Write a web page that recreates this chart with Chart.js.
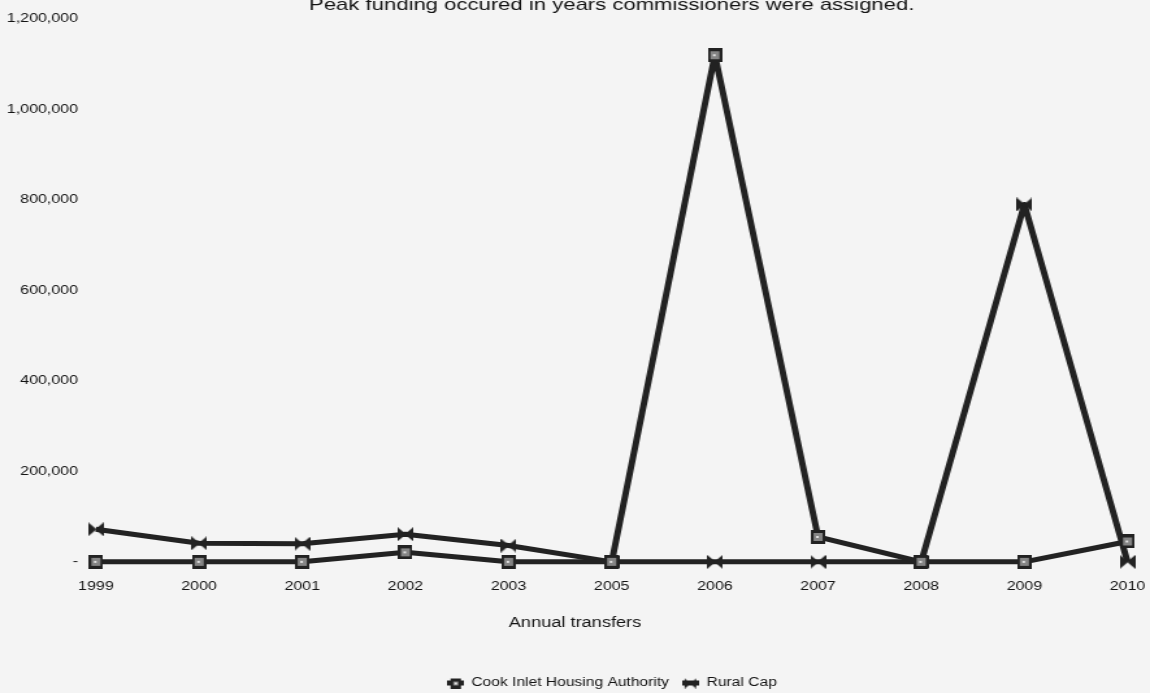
<!DOCTYPE html>
<html>
<head>
<meta charset="utf-8">
<script src="https://cdn.jsdelivr.net/npm/chart.js@4.4.1/dist/chart.umd.min.js"></script>
<style>
  html, body { margin: 0; padding: 0; background: #f4f4f4; overflow: hidden; width: 1150px; height: 693px; }
  /* The chart is laid out on a narrower canvas and widened, giving the broad lettering of the printed report */
  #wrap { position: absolute; left: 0; top: -10px; width: 885px; height: 720px; transform: scaleX(1.29944); transform-origin: 0 0; }
  canvas { display: block; }
</style>
</head>
<body>
<div id="wrap"><canvas id="chart" width="885" height="720" style="width:885px;height:720px"></canvas></div>
<script>
// Annual transfers by recipient (dollars)
const years = ['1999', '2000', '2001', '2002', '2003', '2005', '2006', '2007', '2008', '2009', '2010'];
const cookInlet = [0, 0, 0, 21000, 0, 0, 1120000, 55000, 0, 0, 45000];
const ruralCap = [72000, 41000, 40000, 61000, 36000, 0, 0, 0, 0, 790000, 0];
const seriesNames = ['Cook Inlet Housing Authority', 'Rural Cap'];
const yTickValues = [0, 200000, 400000, 600000, 800000, 1000000, 1200000];
const chartTitle = 'Peak funding occured in years commissioners were assigned.';
const axisTitle = 'Annual transfers';

const INK = '#131313';
const LINE = '#222222';
const FONT = '"Liberation Sans", Arial, sans-serif';

// Square marker with a lighter centre
function squareMarker(w, h) {
  const c = document.createElement('canvas');
  c.width = w; c.height = h;
  const g = c.getContext('2d');
  g.fillStyle = LINE; g.fillRect(0, 0, w, h);
  g.fillStyle = '#858585'; g.fillRect(2, 3, w - 4, h - 6);
  g.fillStyle = '#e2e2e2'; g.fillRect(Math.floor(w / 2) - 1, Math.floor(h / 2) - 1, 2, 2);
  return c;
}

// Bow-tie marker: two triangles meeting in the middle
function bowtieMarker(w, h) {
  const c = document.createElement('canvas');
  c.width = w; c.height = h;
  const g = c.getContext('2d');
  g.fillStyle = LINE;
  g.beginPath();
  g.moveTo(0, 0); g.lineTo(w / 2 + 0.5, h / 2); g.lineTo(0, h); g.closePath();
  g.moveTo(w, 0); g.lineTo(w / 2 - 0.5, h / 2); g.lineTo(w, h); g.closePath();
  g.fill();
  return c;
}

// Legend key: a short line segment with the series marker on it
function legendKey(kind) {
  const w = 13, h = 11;
  const c = document.createElement('canvas');
  c.width = w; c.height = h;
  const g = c.getContext('2d');
  g.fillStyle = LINE;
  g.fillRect(0, 3, w, 5);
  const m = kind === 'square' ? squareMarker(8, 10) : bowtieMarker(9, 10);
  g.drawImage(m, Math.round((w - m.width) / 2), Math.round((h - m.height) / 2));
  return c;
}

const squareImg = squareMarker(11, 14);
const bowtieImg = bowtieMarker(12, 14);
const legendImgs = [legendKey('square'), legendKey('bowtie')];

const tickFont = { family: FONT, size: 12.3 };

new Chart(document.getElementById('chart'), {
  type: 'line',
  data: {
    labels: years,
    datasets: [
      {
        label: seriesNames[0],
        data: cookInlet,
        borderColor: LINE,
        borderWidth: 5,
        borderJoinStyle: 'round',
        pointStyle: squareImg,
        pointRadius: 7,
        tension: 0,
        clip: false
      },
      {
        label: seriesNames[1],
        data: ruralCap,
        borderColor: LINE,
        borderWidth: 5,
        borderJoinStyle: 'round',
        pointStyle: bowtieImg,
        pointRadius: 7,
        tension: 0,
        clip: false
      }
    ]
  },
  options: {
    responsive: false,
    animation: false,
    events: [],
    layout: { padding: { left: 0, right: 0, top: 0, bottom: 11 } },
    plugins: {
      title: {
        display: true,
        text: chartTitle,
        fullSize: false,
        color: INK,
        font: { family: FONT, size: 17, weight: 'normal' },
        padding: { top: 4.8, bottom: 3.8 }
      },
      subtitle: {
        display: true,
        text: axisTitle,
        position: 'bottom',
        fullSize: true,
        color: INK,
        font: { family: FONT, size: 14, weight: 'normal' },
        padding: { top: 3, bottom: 35.6 }
      },
      legend: {
        position: 'bottom',
        fullSize: false,
        weight: 2000,
        labels: {
          usePointStyle: true,
          pointStyleWidth: 13,
          padding: 10,
          color: INK,
          font: { family: FONT, size: 12 },
          generateLabels(chart) {
            const items = Chart.defaults.plugins.legend.labels.generateLabels(chart);
            items.forEach((it, i) => { it.pointStyle = legendImgs[i]; });
            return items;
          }
        }
      },
      tooltip: { enabled: false }
    },
    scales: {
      x: {
        grid: { display: false, drawTicks: false },
        border: { display: false },
        afterFit(scale) { scale.paddingLeft = 0; scale.paddingRight = 0; },
        ticks: { color: INK, font: tickFont, padding: 17.5, maxRotation: 0, autoSkip: false }
      },
      y: {
        min: yTickValues[0],
        max: yTickValues[yTickValues.length - 1],
        grid: { display: false, drawTicks: false },
        border: { display: false },
        afterBuildTicks(scale) { scale.ticks = yTickValues.map(v => ({ value: v })); },
        afterFit(scale) { scale.width = 73.8; },
        ticks: {
          color: INK,
          font: tickFont,
          padding: 13.8,
          callback: v => (v === 0 ? '-' : Number(v).toLocaleString('en-US'))
        }
      },
      // empty margin strip on the right of the plot
      yMargin: {
        position: 'right',
        min: 0,
        max: 1,
        grid: { display: false, drawTicks: false },
        border: { display: false },
        ticks: { display: false },
        afterFit(scale) { scale.width = 17.3; scale.paddingTop = 0; scale.paddingBottom = 0; }
      }
    }
  }
});
</script>
</body>
</html>
